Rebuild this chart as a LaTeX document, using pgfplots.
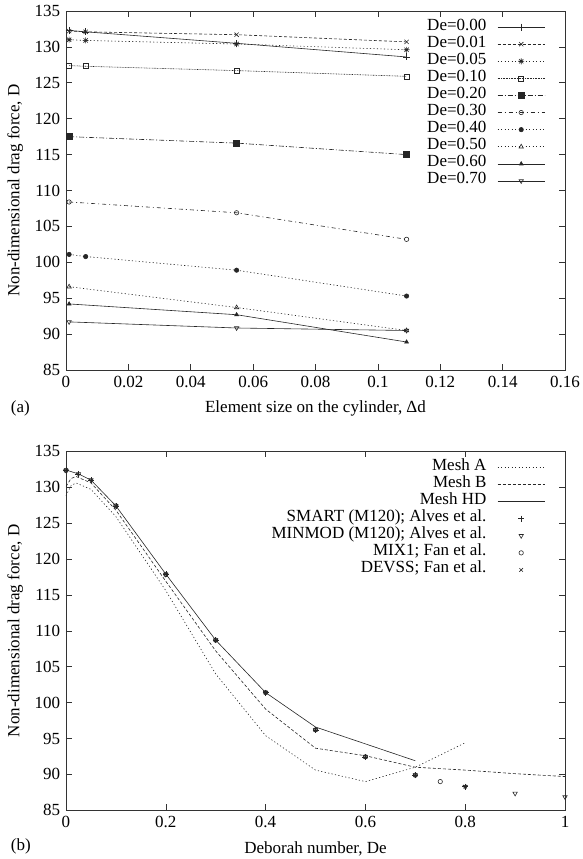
\documentclass[border=0pt]{standalone}
\usepackage{fontspec}
\setmainfont{Liberation Serif}
\usepackage{pgfplots}
\pgfplotsset{compat=1.18}

% gnuplot style star: plus and cross together
\pgfdeclareplotmark{gpstar}{%
  \pgfpathmoveto{\pgfqpoint{-\pgfplotmarksize}{0pt}}\pgfpathlineto{\pgfqpoint{\pgfplotmarksize}{0pt}}%
  \pgfpathmoveto{\pgfqpoint{0pt}{-\pgfplotmarksize}}\pgfpathlineto{\pgfqpoint{0pt}{\pgfplotmarksize}}%
  \pgfpathmoveto{\pgfqpoint{-.707\pgfplotmarksize}{-.707\pgfplotmarksize}}\pgfpathlineto{\pgfqpoint{.707\pgfplotmarksize}{.707\pgfplotmarksize}}%
  \pgfpathmoveto{\pgfqpoint{-.707\pgfplotmarksize}{.707\pgfplotmarksize}}\pgfpathlineto{\pgfqpoint{.707\pgfplotmarksize}{-.707\pgfplotmarksize}}%
  \pgfusepathqstroke}

\pgfplotsset{
  gpaxis/.style={
    scale only axis, width=499pt, height=359pt,
    ymin=85, ymax=135, ytick={85,90,...,135},
    axis line style={black!80, line width=0.7pt},
    major tick style={black!80, line width=0.6pt},
    major tick length=6pt,
    /pgf/number format/assume math mode=true,
    scaled x ticks=false,
    ylabel={Non-dimensional drag force, D},
    xlabel style={yshift=-2pt},
    legend cell align=right,
    legend plot pos=right,
    legend style={draw=none, fill=none, inner sep=0pt, outer sep=0pt,
      column sep=11pt, row sep=0pt,
      at={(1,1)}, anchor=north east, xshift=-20pt, yshift=-7.5pt,
      nodes={inner sep=0pt, text height=11.5pt, text depth=5.6pt}},
    legend image code/.code={%
      \draw[mark repeat=2,mark phase=2] plot coordinates {(0pt,0pt) (23.5pt,0pt) (47pt,0pt)};},
    every axis plot/.append style={black!85, line width=0.6pt, mark size=2.5pt, mark options={solid}},
  },
  dsh/.style={dash pattern=on 3pt off 2pt},
  dot/.style={dash pattern=on 1.2pt off 2.3pt},
  fdot/.style={dash pattern=on 0.8pt off 0.8pt},
  dd/.style={dash pattern=on 5pt off 2pt on 1pt off 2pt},
  ddd/.style={dash pattern=on 4pt off 3pt on 1pt off 3pt},
}

\begin{document}
\fontsize{17}{20}\selectfont
\begin{tikzpicture}
\path[use as bounding box] (0,0) rectangle (582pt,-859pt);

% (a) drag force against element size
\begin{axis}[gpaxis, at={(66pt,-11pt)}, anchor=north west,
  xmin=0, xmax=0.16,
  xtick={0,0.02,0.04,0.06,0.08,0.1,0.12,0.14,0.16},
  xticklabel style={/pgf/number format/fixed, /pgf/number format/precision=2},
  xlabel={Element size on the cylinder, Δd}]
\addplot[solid, mark=+, mark size=3.5pt] coordinates {(0.001,132.3) (0.0063,132.1) (0.0547,130.5) (0.1092,128.6)};
\addlegendentry{De=0.00}
\addplot[dsh, mark=x, mark size=3pt] coordinates {(0.001,132.2) (0.0063,132.1) (0.0547,131.7) (0.1092,130.7)};
\addlegendentry{De=0.01}
\addplot[dot, mark=gpstar, mark size=3pt] coordinates {(0.001,131.0) (0.0063,130.9) (0.0547,130.4) (0.1092,129.6)};
\addlegendentry{De=0.05}
\addplot[fdot, mark=square] coordinates {(0.001,127.4) (0.0063,127.3) (0.0547,126.7) (0.1092,125.9)};
\addlegendentry{De=0.10}
\addplot[dd, mark=square*, mark size=3pt] coordinates {(0.001,117.5) (0.0547,116.6) (0.1092,115.0)};
\addlegendentry{De=0.20}
\addplot[ddd, mark=o, mark size=2.2pt] coordinates {(0.001,108.4) (0.0547,106.9) (0.1092,103.2)};
\addlegendentry{De=0.30}
\addplot[dot, mark=*, mark size=2.2pt] coordinates {(0.001,101.1) (0.0063,100.8) (0.0547,98.9) (0.1092,95.3)};
\addlegendentry{De=0.40}
\addplot[dot, mark=triangle] coordinates {(0.001,96.6) (0.0547,93.7) (0.1092,90.5)};
\addlegendentry{De=0.50}
\addplot[solid, mark=triangle*, mark size=2.2pt] coordinates {(0.001,94.2) (0.0547,92.7) (0.1092,88.9)};
\addlegendentry{De=0.60}
\addplot[solid, mark=triangle, mark options={rotate=180}] coordinates {(0.001,91.7) (0.0547,90.85) (0.1092,90.5)};
\addlegendentry{De=0.70}
\end{axis}

% (b) drag force against Deborah number
\begin{axis}[gpaxis, at={(66pt,-451.3pt)}, anchor=north west,
  xmin=0, xmax=1, xtick={0,0.2,0.4,0.6,0.8,1},
  xlabel={Deborah number, De}]
\addplot[dot] coordinates {(0,128.8) (0.01,130.2) (0.02,130.6) (0.05,129.7) (0.1,125.9) (0.2,115.6) (0.3,104.0) (0.4,95.4) (0.5,90.6) (0.6,89.0) (0.7,91.0) (0.8,94.4)};
\addlegendentry{Mesh A}
\addplot[dsh] coordinates {(0,130.1) (0.01,131.2) (0.02,131.5) (0.05,130.6) (0.1,126.8) (0.2,116.9) (0.3,107.2) (0.4,99.1) (0.5,93.65) (0.6,92.6) (0.7,91.0) (0.8,90.6) (0.9,90.1) (1.0,89.7)};
\addlegendentry{Mesh B}
\addplot[solid] coordinates {(0,132.4) (0.025,131.85) (0.05,131.0) (0.1,127.4) (0.2,117.9) (0.3,108.7) (0.4,101.4) (0.5,96.6) (0.6,94.25) (0.7,91.9)};
\addlegendentry{Mesh HD}
\addplot[only marks, mark=+, mark size=3pt] coordinates {(0,132.35) (0.025,131.85) (0.05,131.0) (0.1,127.4) (0.2,117.85) (0.3,108.7) (0.4,101.4) (0.5,96.2) (0.6,92.45) (0.7,89.9) (0.8,88.3)};
\addlegendentry{SMART (M120); Alves et al.}
\addplot[only marks, mark=triangle, mark options={rotate=180}] coordinates {(0,132.35) (0.025,131.85) (0.05,131.0) (0.1,127.4) (0.2,117.85) (0.3,108.7) (0.4,101.4) (0.5,96.2) (0.6,92.45) (0.7,89.9) (0.8,88.3) (0.9,87.35) (1.0,86.85)};
\addlegendentry{MINMOD (M120); Alves et al.}
\addplot[only marks, mark=o, mark size=2.2pt] coordinates {(0,132.35) (0.1,127.4) (0.2,117.85) (0.3,108.7) (0.4,101.4) (0.5,96.2) (0.6,92.45) (0.7,89.9) (0.75,89.0)};
\addlegendentry{MIX1; Fan et al.}
\addplot[only marks, mark=x, mark size=2.5pt] coordinates {(0,132.35) (0.1,127.4) (0.2,117.85) (0.3,108.7) (0.4,101.4) (0.5,96.2) (0.6,92.45) (0.7,89.9) (0.8,88.3)};
\addlegendentry{DEVSS; Fan et al.}
\end{axis}

\node[anchor=west] at (5pt,-408pt) {(a)};
\node[anchor=west] at (5pt,-846pt) {(b)};
\end{tikzpicture}
\end{document}
